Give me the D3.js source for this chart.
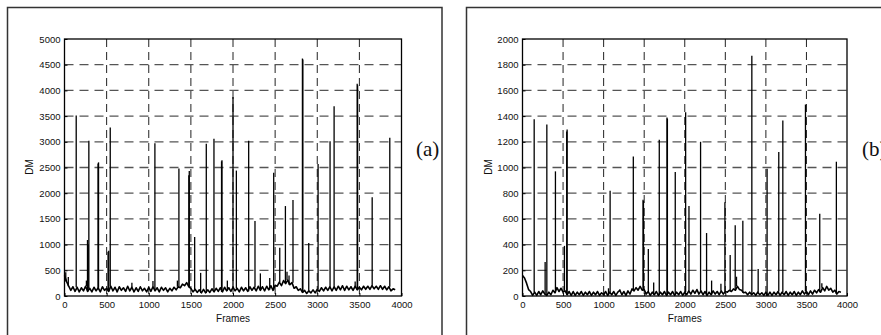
<!DOCTYPE html>
<html>
<head>
<meta charset="utf-8">
<script src="https://cdn.jsdelivr.net/npm/d3@7"></script>
<style>
	html, body { margin: 0; padding: 0; background: #fff; overflow: hidden; }
	svg { display: block; }
</style>
</head>
<body>
<div id="chart"></div>
<script>
// baseline samples every 25 frames, spikes as [frame, value]
const frameStep = 25;
const xTicks = [0, 500, 1000, 1500, 2000, 2500, 3000, 3500, 4000];
const yTicksA = [0, 500, 1000, 1500, 2000, 2500, 3000, 3500, 4000, 4500, 5000];
const yTicksB = [0, 200, 400, 600, 800, 1000, 1200, 1400, 1600, 1800, 2000];

const baseA = [
	400, 280, 190, 110, 180, 90, 170, 80, 160, 100, 190, 90, 150, 80, 170, 100,
	160, 80, 180, 110, 150, 90, 190, 100, 170, 80, 180, 110, 160, 90, 190, 100,
	170, 80, 160, 90, 180, 100, 150, 80, 170, 90, 180, 100, 160, 80, 170, 110,
	160, 80, 150, 100, 170, 120, 180, 160, 230, 200, 260, 180, 150, 80, 130, 70,
	120, 60, 130, 60, 120, 70, 140, 80, 150, 90, 160, 80, 170, 100, 160, 90,
	170, 100, 150, 80, 170, 100, 160, 90, 180, 110, 170, 100, 190, 110, 180, 100,
	190, 120, 200, 110, 210, 190, 270, 200, 300, 240, 310, 220, 260, 150, 180, 110,
	140, 70, 110, 50, 100, 60, 120, 60, 130, 90, 160, 100, 170, 110, 180, 100,
	180, 110, 190, 120, 200, 110, 190, 120, 180, 110, 190, 120, 170, 120, 190, 130,
	190, 130, 200, 140, 190, 130, 200, 130, 190, 120, 180, 100, 140, 120,
];
const spikesA = [
	[15, 460], [45, 370], [139, 3510], [260, 300], [273, 1090], [281, 1000],
	[289, 3020], [398, 2580], [404, 2600], [517, 860], [525, 880], [543, 3280],
	[800, 260], [1050, 290], [1073, 2970], [1340, 300], [1358, 2480],
	[1476, 2350], [1481, 2430], [1545, 1150], [1616, 450], [1683, 2960],
	[1774, 3060], [1864, 2620], [1869, 2640], [1933, 300], [2000, 3870],
	[2040, 2440], [2186, 3020], [2261, 1460], [2325, 440], [2436, 350],
	[2483, 2400], [2555, 940], [2622, 1750], [2641, 470], [2665, 400],
	[2712, 1870], [2824, 4620], [2829, 4600], [2899, 1030], [3010, 2570],
	[3152, 3010], [3200, 3690], [3450, 280], [3474, 4130], [3479, 4100],
	[3652, 1920], [3861, 3080],
];

const baseB = [
	160, 140, 100, 50, 35, 5, 30, 5, 35, 10, 40, 15, 5, 30, 10, 45,
	25, 65, 35, 60, 30, 40, 10, 35, 5, 35, 5, 30, 10, 35, 5, 30,
	10, 35, 5, 30, 10, 35, 5, 25, 10, 35, 5, 30, 10, 35, 5, 30,
	45, 10, 35, 5, 40, 15, 55, 40, 65, 45, 75, 45, 50, 15, 35, 5,
	30, 10, 35, 5, 30, 10, 35, 5, 30, 10, 35, 5, 30, 10, 35, 5,
	30, 10, 40, 15, 45, 20, 50, 15, 40, 10, 35, 5, 30, 10, 40, 15,
	35, 10, 40, 15, 35, 30, 45, 35, 55, 45, 75, 50, 45, 25, 30, 10,
	30, 10, 25, 5, 30, 10, 25, 5, 30, 5, 30, 5, 30, 10, 35, 5,
	30, 10, 35, 5, 30, 10, 35, 5, 30, 10, 40, 15, 35, 10, 40, 15,
	45, 25, 50, 30, 65, 40, 75, 45, 60, 30, 45, 15, 35, 30,
];
const spikesB = [
	[144, 1375], [279, 265], [300, 1335], [406, 970], [517, 390], [545, 1280],
	[550, 1295], [1060, 60], [1080, 820], [1200, 50], [1366, 1085],
	[1486, 750], [1491, 740], [1551, 365], [1617, 105], [1686, 1215],
	[1781, 1390], [1786, 1380], [1883, 965], [2011, 1430], [2052, 700],
	[2195, 1200], [2269, 490], [2331, 120], [2446, 95], [2495, 730],
	[2560, 320], [2622, 550], [2638, 150], [2716, 585], [2827, 1870],
	[2905, 210], [3015, 990], [3159, 1120], [3209, 1365], [3488, 1490],
	[3664, 640], [3690, 100], [3869, 1045],
];

const width = 881;
const height = 335;
const svg = d3
	.select("#chart")
	.append("svg")
	.attr("width", width)
	.attr("height", height)
	.attr("viewBox", `0 0 ${width} ${height}`);

function drawPanel(cfg) {
	// outer figure frame
	svg
		.append("rect")
		.attr("x", cfg.frame[0])
		.attr("y", cfg.frame[1])
		.attr("width", cfg.frame[2])
		.attr("height", cfg.frame[3])
		.attr("fill", "none")
		.attr("stroke", "#333")
		.attr("stroke-width", 1.5);

	const { left, right, top, bottom } = cfg.plot;
	const innerWidth = right - left;
	const innerHeight = bottom - top;
	const x = d3.scaleLinear().domain([0, 4000]).range([0, innerWidth]);
	const y = d3
		.scaleLinear()
		.domain([0, d3.max(cfg.yTicks)])
		.range([innerHeight, 0]);

	const root = svg.append("g").attr("transform", `translate(${left}, ${top})`);

	// dashed grid
	root
		.append("g")
		.selectAll("line")
		.data(cfg.yTicks.slice(1, -1))
		.join("line")
		.attr("x1", 0)
		.attr("x2", innerWidth)
		.attr("y1", (d) => y(d))
		.attr("y2", (d) => y(d))
		.attr("stroke", "#555")
		.attr("stroke-width", 1.3)
		.attr("stroke-dasharray", "9 6");
	root
		.append("g")
		.selectAll("line")
		.data(xTicks.slice(1, -1))
		.join("line")
		.attr("x1", (d) => x(d))
		.attr("x2", (d) => x(d))
		.attr("y1", 0)
		.attr("y2", innerHeight)
		.attr("stroke", "#222")
		.attr("stroke-width", 1)
		.attr("stroke-dasharray", "8 5");

	// axes
	const yAxis = root
		.append("g")
		.call(
			d3
				.axisLeft(y)
				.tickValues(cfg.yTicks)
				.tickFormat(d3.format("d"))
				.tickSize(-3)
				.tickPadding(4),
		);
	const xAxis = root
		.append("g")
		.attr("transform", `translate(0, ${innerHeight})`)
		.call(
			d3
				.axisBottom(x)
				.tickValues(xTicks)
				.tickFormat(d3.format("d"))
				.tickSize(-3)
				.tickPadding(5),
		);
	[yAxis, xAxis].forEach((axis) => {
		axis.select(".domain").remove();
		axis
			.attr("font-family", "'Liberation Sans', Arial, sans-serif")
			.attr("font-size", 9.5);
		axis.selectAll("line").attr("stroke", "#000");
		axis.selectAll("text").attr("fill", "#111");
	});

	// baseline trace
	const line = d3
		.line()
		.x((d, i) => x(i * frameStep))
		.y((d) => y(d));
	root
		.append("path")
		.attr("d", line(cfg.base))
		.attr("fill", "none")
		.attr("stroke", "#000")
		.attr("stroke-width", 1.6)
		.attr("stroke-linejoin", "round");

	// cut spikes
	const baseAt = (frame) =>
		cfg.base[Math.min(cfg.base.length - 1, Math.round(frame / frameStep))];
	root
		.append("g")
		.selectAll("line")
		.data(cfg.spikes)
		.join("line")
		.attr("x1", (d) => x(d[0]))
		.attr("x2", (d) => x(d[0]))
		.attr("y1", (d) => y(baseAt(d[0])))
		.attr("y2", (d) => y(d[1]))
		.attr("stroke", "#000")
		.attr("stroke-width", 1.3);

	// plot box
	root
		.append("rect")
		.attr("width", innerWidth)
		.attr("height", innerHeight)
		.attr("fill", "none")
		.attr("stroke", "#000")
		.attr("stroke-width", 1.3);

	root
		.append("text")
		.attr("x", innerWidth / 2)
		.attr("y", innerHeight + 25.5)
		.attr("text-anchor", "middle")
		.attr("font-family", "'Liberation Sans', Arial, sans-serif")
		.attr("font-size", 10)
		.attr("fill", "#111")
		.text("Frames");
	root
		.append("text")
		.attr("transform", `translate(${cfg.dmX - left}, ${167 - top}) rotate(-90)`)
		.attr("text-anchor", "middle")
		.attr("dy", "0.35em")
		.attr("font-family", "'Liberation Sans', Arial, sans-serif")
		.attr("font-size", 10)
		.attr("fill", "#111")
		.text("DM");

	svg
		.append("text")
		.attr("x", cfg.tagX)
		.attr("y", 156)
		.attr("font-family", "'Liberation Serif', 'Times New Roman', serif")
		.attr("font-size", 21)
		.attr("fill", "#111")
		.text(cfg.tag);
}

drawPanel({
	frame: [7.5, 7.5, 434.5, 340],
	plot: { left: 64.5, right: 401.5, top: 39, bottom: 296 },
	yTicks: yTicksA,
	base: baseA,
	spikes: spikesA,
	dmX: 29.5,
	tag: "(a)",
	tagX: 416,
});

drawPanel({
	frame: [466.5, 7.5, 430, 340],
	plot: { left: 522.5, right: 847, top: 39, bottom: 296 },
	yTicks: yTicksB,
	base: baseB,
	spikes: spikesB,
	dmX: 488.5,
	tag: "(b)",
	tagX: 862,
});
</script>
</body>
</html>
